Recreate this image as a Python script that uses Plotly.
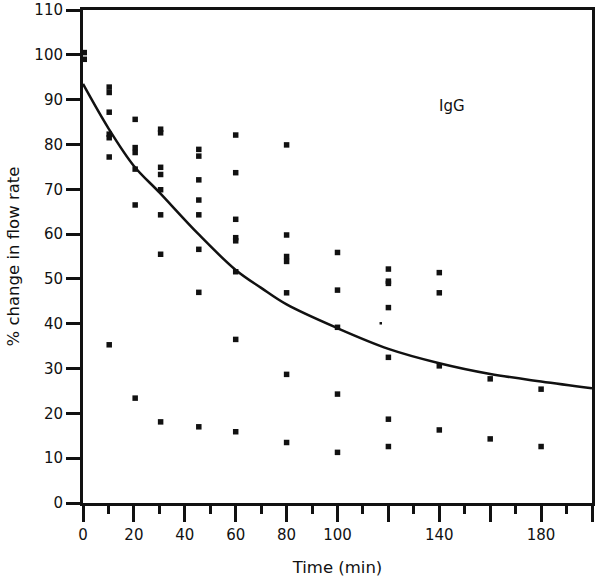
import plotly.graph_objects as go

# Scatter data (time in min, % change in flow rate)
times = ([0.5, 0.5]
         + [10.3] * 7
         + [20.5] * 6
         + [30.5] * 8
         + [45.5] * 8
         + [60] * 8
         + [80] * 7
         + [100] * 5
         + [120] * 7
         + [140] * 4
         + [160] * 2
         + [180] * 2)
values = ([100.5, 99.0]
          + [92.8, 91.6, 87.2, 82.3, 81.5, 77.2, 35.3]
          + [85.6, 79.3, 78.2, 74.5, 66.5, 23.4]
          + [83.4, 82.6, 74.9, 73.3, 69.9, 64.3, 55.5, 18.1]
          + [78.9, 77.4, 72.1, 67.6, 64.3, 56.6, 47.0, 17.0]
          + [82.1, 73.7, 63.3, 59.2, 58.5, 51.6, 36.5, 15.9]
          + [79.9, 59.8, 55.0, 53.9, 46.9, 28.7, 13.5]
          + [55.9, 47.5, 39.2, 24.3, 11.3]
          + [52.2, 49.5, 49.0, 43.6, 32.5, 18.7, 12.6]
          + [51.4, 46.9, 30.6, 16.3]
          + [27.7, 14.3]
          + [25.4, 12.6])

# small stray dot
speck_x = [117]
speck_y = [40.1]

# Fitted curve
curve_x = [0, 10, 20, 30, 45, 60, 70, 80, 100, 120, 140, 160, 180, 200]
curve_y = [93.5, 83.6, 75.2, 69.3, 60.2, 52.0, 48.0, 44.3, 39.0, 34.4, 31.2, 28.8, 27.1, 25.6]

x_tickvals = [0, 20, 40, 60, 80, 100, 120, 140, 160, 180, 200]
x_ticktext = ["0", "20", "40", "60", "80", "100", "", "140", "", "180", ""]
y_tickvals = list(range(0, 111, 10))

FONT = "DejaVu Sans"
INK = "#111111"

fig = go.Figure()
fig.add_trace(go.Scatter(
    x=curve_x, y=curve_y, mode="lines",
    line=dict(color=INK, width=2.5, shape="spline", smoothing=1.0),
    hoverinfo="skip", showlegend=False, cliponaxis=False,
))
fig.add_trace(go.Scatter(
    x=times, y=values, mode="markers",
    marker=dict(symbol="square", size=5.5, color=INK, line=dict(width=0)),
    showlegend=False, cliponaxis=False,
))
fig.add_trace(go.Scatter(
    x=speck_x, y=speck_y, mode="markers",
    marker=dict(symbol="square", size=2.5, color=INK, line=dict(width=0)),
    showlegend=False,
))

fig.add_annotation(x=145, y=88.6, text="IgG", showarrow=False,
                   font=dict(family=FONT, size=15, color=INK))

fig.update_layout(
    width=601, height=580,
    margin=dict(l=83, r=9, t=10, b=77),
    paper_bgcolor="white", plot_bgcolor="white",
    font=dict(family=FONT, color=INK),
    xaxis=dict(
        range=[0, 200], showgrid=False, zeroline=False, automargin=False,
        showline=True, linecolor=INK, linewidth=3, mirror=True,
        tickmode="array", tickvals=x_tickvals, ticktext=x_ticktext,
        ticks="outside", ticklen=16, tickwidth=2.5, tickcolor=INK,
        ticklabeloverflow="allow",
        minor=dict(dtick=10, tick0=0, ticks="outside", ticklen=8,
                   tickwidth=2.5, tickcolor=INK, showgrid=False),
        tickfont=dict(family=FONT, size=15, color=INK),
        title=dict(text="Time (min)", font=dict(family=FONT, size=16.5, color=INK),
                   standoff=19),
    ),
    yaxis=dict(
        range=[0, 110], showgrid=False, zeroline=False, automargin=False,
        showline=True, linecolor=INK, linewidth=3, mirror=True,
        tickmode="array", tickvals=y_tickvals,
        ticks="outside", ticklen=14, tickwidth=2.5, tickcolor=INK,
        ticklabeloverflow="allow",
        tickfont=dict(family=FONT, size=15, color=INK),
        title=dict(text="% change in flow rate",
                   font=dict(family=FONT, size=16.5, color=INK), standoff=11),
    ),
)

# remove the default page margin so the 601x580 figure fills the window exactly
fig.write_html("out.html",
               config={"displayModeBar": False},
               post_script="document.body.style.margin='0';document.body.style.overflow='hidden';")
